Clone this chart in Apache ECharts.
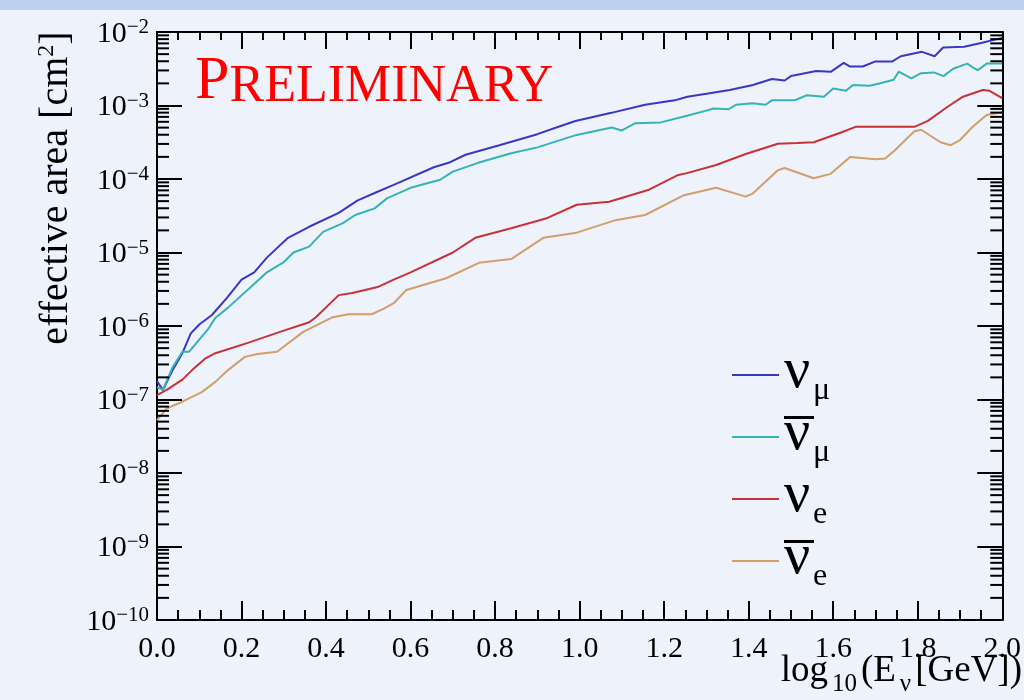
<!DOCTYPE html>
<html>
<head>
<meta charset="utf-8">
<script src="https://cdn.jsdelivr.net/npm/echarts@6/dist/echarts.min.js"></script>
<style>
    html, body {margin: 0; padding: 0; background: #eef2fb;}
    #chart {width: 1024px; height: 700px;}
</style>
</head>
<body>
<div id="chart"></div>
<script>
// log10 of effective area [cm^2] versus log10(E [GeV])
var numuX = [0, 0.014, 0.037, 0.06, 0.08, 0.10, 0.13, 0.165, 0.20, 0.23, 0.26, 0.31, 0.36, 0.43, 0.475, 0.515, 0.56, 0.655, 0.69, 0.73, 0.81, 0.90, 0.95, 0.99, 1.075, 1.155, 1.225, 1.255, 1.30, 1.355, 1.41, 1.455, 1.485, 1.50, 1.56, 1.595, 1.625, 1.64, 1.67, 1.70, 1.74, 1.76, 1.81, 1.84, 1.86, 1.91, 1.95, 2.0];
var numuLog = [-6.75, -6.87, -6.60, -6.37, -6.10, -5.98, -5.85, -5.62, -5.37, -5.27, -5.07, -4.80, -4.65, -4.46, -4.29, -4.19, -4.08, -3.84, -3.78, -3.67, -3.54, -3.39, -3.29, -3.21, -3.10, -2.99, -2.93, -2.88, -2.84, -2.79, -2.72, -2.64, -2.66, -2.60, -2.53, -2.54, -2.42, -2.47, -2.47, -2.40, -2.40, -2.33, -2.27, -2.33, -2.21, -2.20, -2.15, -2.08];

var anumuX = [0, 0.014, 0.037, 0.06, 0.076, 0.12, 0.138, 0.168, 0.222, 0.26, 0.30, 0.323, 0.36, 0.393, 0.44, 0.469, 0.515, 0.545, 0.60, 0.67, 0.70, 0.76, 0.838, 0.90, 0.993, 1.076, 1.10, 1.132, 1.192, 1.254, 1.30, 1.317, 1.353, 1.37, 1.409, 1.44, 1.455, 1.508, 1.538, 1.578, 1.60, 1.63, 1.647, 1.686, 1.709, 1.743, 1.755, 1.785, 1.808, 1.838, 1.861, 1.884, 1.917, 1.93, 1.942, 1.963, 2.0];
var anumuLog = [-6.83, -6.87, -6.56, -6.35, -6.35, -6.05, -5.89, -5.75, -5.47, -5.27, -5.13, -5.00, -4.92, -4.72, -4.60, -4.49, -4.40, -4.26, -4.12, -4.01, -3.90, -3.78, -3.65, -3.57, -3.40, -3.30, -3.34, -3.24, -3.23, -3.14, -3.07, -3.04, -3.05, -2.99, -2.97, -2.99, -2.93, -2.93, -2.86, -2.88, -2.77, -2.80, -2.72, -2.73, -2.70, -2.65, -2.54, -2.63, -2.56, -2.55, -2.60, -2.50, -2.43, -2.48, -2.52, -2.43, -2.43];

var nueX = [0, 0.023, 0.06, 0.083, 0.115, 0.138, 0.215, 0.291, 0.36, 0.376, 0.43, 0.462, 0.522, 0.56, 0.60, 0.70, 0.753, 0.838, 0.924, 0.993, 1.07, 1.162, 1.231, 1.254, 1.323, 1.393, 1.469, 1.515, 1.554, 1.617, 1.653, 1.792, 1.824, 1.87, 1.907, 1.954, 1.97, 2.0];
var nueLog = [-6.94, -6.87, -6.73, -6.60, -6.44, -6.37, -6.23, -6.08, -5.95, -5.88, -5.58, -5.55, -5.47, -5.37, -5.27, -5.00, -4.80, -4.67, -4.53, -4.35, -4.31, -4.15, -3.95, -3.92, -3.81, -3.66, -3.52, -3.51, -3.50, -3.37, -3.29, -3.29, -3.21, -3.02, -2.88, -2.79, -2.80, -2.90];

var anueX = [0, 0.023, 0.06, 0.106, 0.138, 0.168, 0.208, 0.238, 0.284, 0.346, 0.416, 0.453, 0.508, 0.538, 0.56, 0.59, 0.684, 0.762, 0.838, 0.914, 0.993, 1.085, 1.155, 1.247, 1.30, 1.323, 1.393, 1.409, 1.469, 1.485, 1.554, 1.594, 1.64, 1.70, 1.723, 1.746, 1.792, 1.808, 1.854, 1.878, 1.90, 1.93, 1.963, 2.0];
var anueLog = [-7.28, -7.12, -7.03, -6.90, -6.76, -6.60, -6.42, -6.38, -6.35, -6.08, -5.88, -5.84, -5.84, -5.76, -5.69, -5.51, -5.35, -5.14, -5.09, -4.80, -4.73, -4.56, -4.49, -4.22, -4.15, -4.12, -4.24, -4.20, -3.88, -3.85, -3.99, -3.93, -3.70, -3.73, -3.72, -3.61, -3.35, -3.33, -3.50, -3.54, -3.47, -3.29, -3.13, -3.09];

var seriesNames = ['numu', 'anumu', 'nue', 'anue'];
var seriesColors = ['#3838c4', '#34b4b4', '#c83236', '#d29e6a'];
// rows: overbar (or blank), nu, subscript, blank filler
var legendText = {
    numu: '{nobar| }\n{n|\u03bd}\n{sp| }{s|\u03bc}\n{fill| }',
    anumu: '{bar| }\n{n|\u03bd}\n{sp| }{s|\u03bc}\n{fill| }',
    nue: '{nobar| }\n{n|\u03bd}\n{sp| }{s|e}\n{fill| }',
    anue: '{bar| }\n{n|\u03bd}\n{sp| }{s|e}\n{fill| }'
};
// decades carrying the 2..9 log minor ticks
var decades = [-10, -9, -8, -7, -6, -5, -4, -3];
var minorMult = [2, 3, 4, 5, 6, 7, 8, 9];

var serif = 'Liberation Serif';

function zip(xs, ys) {
    var out = [];
    for (var i = 0; i < xs.length; i++) {
        out.push([xs[i], ys[i]]);
    }
    return out;
}

var xTickLabel = function (v) {
    return v.toFixed(1);
};
var yTickLabel = function (v) {
    return '{b|10}{s|\u2212' + Math.round(-v) + '}';
};

var chart = echarts.init(document.getElementById('chart'));

var lineSeries = [
    {name: 'numu', data: zip(numuX, numuLog)},
    {name: 'anumu', data: zip(anumuX, anumuLog)},
    {name: 'nue', data: zip(nueX, nueLog)},
    {name: 'anue', data: zip(anueX, anueLog)}
].map(function (s, i) {
    return {
        name: s.name,
        type: 'line',
        data: s.data,
        showSymbol: false,
        color: seriesColors[i],
        lineStyle: {width: 2, color: seriesColors[i]},
        z: 3
    };
});

var minorTicks = {
    type: 'custom',
    name: 'minor',
    silent: true,
    clip: false,
    data: decades.map(function (d) { return [0, d]; }),
    renderItem: function (params, api) {
        var cs = params.coordSys;
        var d = api.value(1);
        var kids = [];
        minorMult.forEach(function (k) {
            var y = api.coord([0, d + Math.log10(k)])[1];
            kids.push({type: 'line', shape: {x1: cs.x, y1: y, x2: cs.x + 12, y2: y},
                style: {stroke: '#000', lineWidth: 2}});
            kids.push({type: 'line', shape: {x1: cs.x + cs.width - 12, y1: y, x2: cs.x + cs.width, y2: y},
                style: {stroke: '#000', lineWidth: 2}});
        });
        return {type: 'group', children: kids};
    },
    z: 4
};

var option = {
    backgroundColor: '#eef2fb',
    animation: false,
    grid: {left: 157, right: 1, top: 32, bottom: 80},
    legend: {
        data: seriesNames,
        orient: 'vertical',
        left: 732,
        top: 343,
        padding: 0,
        icon: 'rect',
        itemWidth: 47,
        itemHeight: 2,
        itemGap: -2,
        selectedMode: false,
        formatter: function (name) {
            return legendText[name];
        },
        textStyle: {
            color: '#000',
            fontFamily: serif,
            rich: {
                bar: {width: 30, height: 3, lineHeight: 3, fontSize: 1, backgroundColor: '#000'},
                nobar: {width: 30, height: 3, lineHeight: 3, fontSize: 1},
                n: {fontSize: 58, lineHeight: 30, fontFamily: serif, color: '#000'},
                sp: {width: 29, fontSize: 1, lineHeight: 8},
                s: {fontSize: 32, lineHeight: 8, fontFamily: serif, color: '#000'},
                fill: {fontSize: 1, lineHeight: 1}
            }
        }
    },
    xAxis: [{
        type: 'value',
        min: 0,
        max: 2,
        interval: 0.2,
        axisLine: {show: true, onZero: false, lineStyle: {color: '#000', width: 2}},
        axisTick: {inside: true, length: 19, lineStyle: {color: '#000', width: 2}},
        minorTick: {show: true, splitNumber: 4, length: 10, lineStyle: {color: '#000', width: 2}},
        splitLine: {show: false},
        axisLabel: {
            formatter: xTickLabel,
            fontFamily: serif,
            fontSize: 30,
            color: '#000',
            margin: 14,
            showMaxLabel: true,
            alignMinLabel: 'center',
            alignMaxLabel: 'center'
        }
    }, {
        type: 'value',
        position: 'top',
        min: 0,
        max: 2,
        interval: 0.2,
        axisLine: {show: true, onZero: false, lineStyle: {color: '#000', width: 2}},
        axisTick: {inside: true, length: 17, lineStyle: {color: '#000', width: 2}},
        minorTick: {show: true, splitNumber: 4, length: 8, lineStyle: {color: '#000', width: 2}},
        splitLine: {show: false},
        axisLabel: {show: false}
    }],
    yAxis: [{
        type: 'value',
        min: -10,
        max: -2,
        interval: 1,
        axisLine: {show: true, onZero: false, lineStyle: {color: '#000', width: 2}},
        axisTick: {inside: true, length: 25, lineStyle: {color: '#000', width: 2}},
        splitLine: {show: false},
        axisLabel: {
            formatter: yTickLabel,
            margin: 8,
            color: '#000',
            rich: {
                b: {fontFamily: serif, fontSize: 30, lineHeight: 30, color: '#000', verticalAlign: 'top', padding: [2, 0, 0, 0]},
                s: {fontFamily: serif, fontSize: 21, lineHeight: 20, color: '#000', verticalAlign: 'top'}
            }
        }
    }, {
        type: 'value',
        position: 'right',
        min: -10,
        max: -2,
        interval: 1,
        axisLine: {show: true, onZero: false, lineStyle: {color: '#000', width: 2}},
        axisTick: {inside: true, length: 25, lineStyle: {color: '#000', width: 2}},
        splitLine: {show: false},
        axisLabel: {show: false}
    }],
    graphic: [{
        type: 'rect',
        shape: {x: 0, y: 0, width: 1024, height: 10},
        style: {fill: '#bdd0ef'},
        silent: true
    }, {
        type: 'text',
        x: 195,
        y: 51,
        style: {
            text: '{p|P}{r|RELIMINARY}',
            verticalAlign: 'top',
            rich: {
                p: {fontFamily: serif, fontSize: 62, lineHeight: 62, fill: '#ff0000', verticalAlign: 'bottom'},
                r: {fontFamily: serif, fontSize: 52, lineHeight: 56, fill: '#ff0000', verticalAlign: 'bottom'}
            }
        },
        silent: true
    }, {
        type: 'text',
        x: 56,
        y: 188,
        rotation: Math.PI / 2,
        style: {
            text: '{t|effective area [cm}{u|2}{t|]}',
            align: 'center',
            verticalAlign: 'middle',
            rich: {
                t: {fontFamily: serif, fontSize: 40, lineHeight: 42, fill: '#000'},
                u: {fontFamily: serif, fontSize: 24, lineHeight: 24, fill: '#000', verticalAlign: 'top'}
            }
        },
        silent: true
    }, {
        type: 'text',
        x: 1022,
        y: 645,
        style: {
            text: '{t|log}{s|10}{t|(E}{s|\u03bd}{t|[GeV])}',
            align: 'right',
            verticalAlign: 'top',
            rich: {
                t: {fontFamily: serif, fontSize: 37, lineHeight: 52, fill: '#000'},
                s: {fontFamily: serif, fontSize: 25, lineHeight: 20, fill: '#000', verticalAlign: 'bottom', padding: [46, 4, 0, 4]}
            }
        },
        silent: true
    }],
    series: lineSeries.concat([minorTicks])
};

chart.setOption(option);
</script>
</body>
</html>
